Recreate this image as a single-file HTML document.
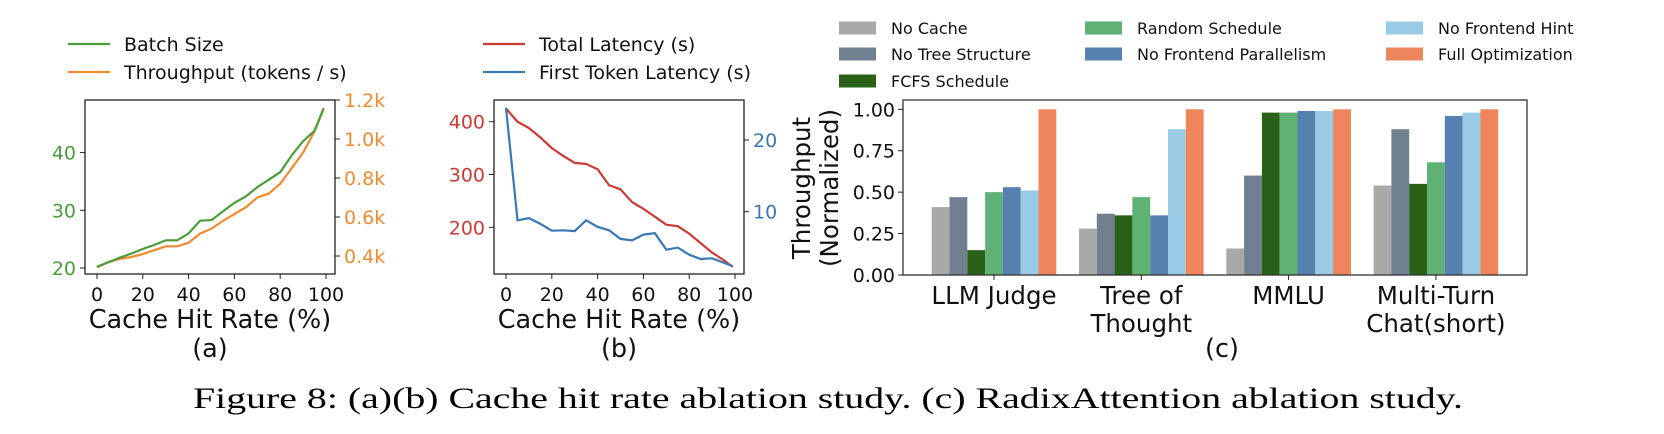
<!DOCTYPE html>
<html><head><meta charset="utf-8"><style>
html,body{margin:0;padding:0;background:#fff;}
svg{display:block;font-family:"DejaVu Sans","Liberation Sans",sans-serif;}
</style></head><body>
<svg id="fig" width="1664" height="434" viewBox="0 0 1664 434" xmlns="http://www.w3.org/2000/svg">
<g id="ga"></g>
<g id="gb"></g>
<g id="gc"></g>
<text x="828" y="408" text-anchor="middle" font-family="Liberation Serif, serif" font-size="30" textLength="1270" lengthAdjust="spacingAndGlyphs">Figure 8: (a)(b) Cache hit rate ablation study. (c) RadixAttention ablation study.</text>
</svg>
<script>
const hitRates=[0,5,10,15,20,25,30,35,40,45,50,55,60,65,70,75,80,85,90,95,99];
const batchSize=[20.2,21,21.8,22.5,23.3,24,24.8,24.8,26,28.2,28.3,29.8,31.3,32.4,34,35.3,36.6,39.5,42,43.8,47.7];
const throughputK=[0.342,0.37,0.385,0.395,0.41,0.43,0.45,0.45,0.468,0.515,0.54,0.58,0.615,0.65,0.70,0.72,0.77,0.85,0.93,1.04,1.157];
const totalLatency=[425,400,388,370,350,335,322,320,310,280,272,248,235,220,205,202,188,170,152,138,125];
const firstTokenLatency=[24.5,8.8,9.1,8.3,7.35,7.4,7.3,8.8,7.9,7.4,6.2,6.0,6.8,7.0,4.7,5.0,4.0,3.4,3.5,2.9,2.4];
const xTicks=[0,20,40,60,80,100];
const aLeftTicks=[20,30,40];
const aRightTicks=[0.4,0.6,0.8,1.0,1.2];
const bLeftTicks=[200,300,400];
const bRightTicks=[10,20];
const categories=[["LLM Judge"],["Tree of","Thought"],["MMLU"],["Multi-Turn","Chat(short)"]];
const seriesNames=["No Cache","No Tree Structure","FCFS Schedule","Random Schedule","No Frontend Parallelism","No Frontend Hint","Full Optimization"];
const noCache=[0.41,0.28,0.16,0.54];
const noTree=[0.47,0.37,0.60,0.88];
const fcfs=[0.15,0.36,0.98,0.55];
const randomSched=[0.50,0.47,0.98,0.68];
const noParallel=[0.53,0.36,0.99,0.96];
const noHint=[0.51,0.88,0.99,0.98];
const fullOpt=[1.0,1.0,1.0,1.0];
const cTicks=[0,0.25,0.5,0.75,1.0];

const NS="http://www.w3.org/2000/svg";
function mk(parent,tag,attrs,txt){const e=document.createElementNS(NS,tag);for(const k in attrs)e.setAttribute(k,attrs[k]);if(txt!==undefined)e.textContent=txt;parent.appendChild(e);return e;}
const GREEN="#4b9d3a",ORANGE="#f28a30",RED="#cc3a35",BLUE="#3a78b5";

function lineChart(g,cfg){
  const {x0,x1,y0,y1,xs,ly,ry}=cfg;
  const fx=v=>xs.a+(v-xs.v0)*xs.k;
  const fl=v=>ly.a+(v-ly.v0)*ly.k;
  const fr=v=>ry.a+(v-ry.v0)*ry.k;
  const p1=hitRates.map((h,i)=>fx(h).toFixed(1)+","+fl(cfg.s1[i]).toFixed(1)).join(" ");
  let e=mk(g,"polyline",{points:p1,fill:"none",stroke:cfg.c1,"stroke-width":2.2});
  
  
  const p2=hitRates.map((h,i)=>fx(h).toFixed(1)+","+fr(cfg.s2[i]).toFixed(1)).join(" ");
  e=mk(g,"polyline",{points:p2,fill:"none",stroke:cfg.c2,"stroke-width":2.2});
  
  
  if(cfg.order==="rev"){g.appendChild(g.children[g.children.length-2]);}
  e=mk(g,"rect",{x:x0,y:y0,width:x1-x0,height:y1-y0,fill:"none",stroke:"#222","stroke-width":1.3});
  
  
  xTicks.forEach(t=>{const x=fx(t);mk(g,"line",{x1:x,x2:x,y1:y1,y2:y1+5,stroke:"#222"});
    e=mk(g,"text",{x:x,y:y1+27,"text-anchor":"middle","font-size":19,fill:"#111"},t);
    
    });
  cfg.lt.forEach(t=>{const y=fl(t);mk(g,"line",{x1:x0-5,x2:x0,y1:y,y2:y,stroke:"#222"});
    e=mk(g,"text",{x:x0-9,y:y+7,"text-anchor":"end","font-size":19,fill:cfg.c1},cfg.lf(t));
    
    });
  cfg.rt.forEach(t=>{const y=fr(t);mk(g,"line",{x1:x1,x2:x1+5,y1:y,y2:y,stroke:"#222"});
    e=mk(g,"text",{x:x1+9,y:y+7,"text-anchor":"start","font-size":19,fill:cfg.c2},cfg.rf(t));
    
    });
  const cx=(x0+x1)/2+cfg.labOff;
  e=mk(g,"text",{x:cx,y:328,"text-anchor":"middle","font-size":25.5,fill:"#111"},"Cache Hit Rate (%)");
  
  
  e=mk(g,"text",{x:cx,y:357,"text-anchor":"middle","font-size":25.5,fill:"#111"},cfg.sub);
  
  
  [[cfg.c1,cfg.L1,44],[cfg.c2,cfg.L2,72]].forEach(([c,l,y])=>{
    e=mk(g,"line",{x1:cfg.lx,x2:cfg.lx+42,y1:y,y2:y,stroke:c,"stroke-width":2.2});
    
    
    e=mk(g,"text",{x:cfg.lx+56,y:y+7,"font-size":19,fill:"#111"},l);
    
    });
}
lineChart(document.getElementById("ga"),{x0:85,x1:335,y0:100,y1:274,
  xs:{a:97,v0:0,k:2.29},ly:{a:268,v0:20,k:-5.77},ry:{a:256,v0:0.4,k:-195},
  s1:batchSize,s2:throughputK,c1:GREEN,c2:ORANGE,n1:"batch-size",n2:"throughput",order:"rev",
  lt:aLeftTicks,rt:aRightTicks,lf:t=>t,rf:t=>t.toFixed(1)+"k",labOff:0,sub:"(a)",
  lx:68,L1:"Batch Size",L2:"Throughput (tokens / s)"});
lineChart(document.getElementById("gb"),{x0:494,x1:744,y0:100,y1:274,
  xs:{a:506,v0:0,k:2.29},ly:{a:121.7,v0:400,k:-0.528},ry:{a:140,v0:20,k:-7.17},
  s1:totalLatency,s2:firstTokenLatency,c1:RED,c2:BLUE,n1:"total-latency",n2:"first-token-latency",order:"",
  lt:bLeftTicks,rt:bRightTicks,lf:t=>t,rf:t=>t,labOff:0,sub:"(b)",
  lx:483,L1:"Total Latency (s)",L2:"First Token Latency (s)"});

(function(){
  const g=document.getElementById("gc");
  const x0=903,x1=1527,y0=100,y1=275;
  const colors=["#a9a9a9","#708090","#2a6118","#5fb174","#5580b0","#99cbe6","#ef855c"];
  const series=[noCache,noTree,fcfs,randomSched,noParallel,noHint,fullOpt];
  const fy=v=>y1-v*165.7;
  const gx=i=>994+i*147.3;
  const bw=17.8;
  let e;
  series.forEach((s,si)=>{s.forEach((v,ci)=>{
    const x=gx(ci)+(si-3.5)*bw;
    e=mk(g,"rect",{x:x,y:fy(v),width:bw,height:y1-fy(v),fill:colors[si]});
    
    });});
  e=mk(g,"rect",{x:x0,y:y0,width:x1-x0,height:y1-y0,fill:"none",stroke:"#333","stroke-width":1.3});
  
  
  cTicks.forEach(t=>{const y=fy(t);mk(g,"line",{x1:x0-5,x2:x0,y1:y,y2:y,stroke:"#222"});
    e=mk(g,"text",{x:x0-8,y:y+7,"text-anchor":"end","font-size":19,fill:"#111"},t.toFixed(2));
    
    });
  categories.forEach((c,i)=>{const x=gx(i);mk(g,"line",{x1:x,x2:x,y1:y1,y2:y1+5,stroke:"#222"});
    c.forEach((l,j)=>{e=mk(g,"text",{x:x,y:304+j*28,"text-anchor":"middle","font-size":24.5,fill:"#111"},l);
      
      });});
  e=mk(g,"text",{x:1222,y:357,"text-anchor":"middle","font-size":25.5,fill:"#111"},"(c)");
  
  
  e=mk(g,"text",{transform:"translate(810,188) rotate(-90)","text-anchor":"middle","font-size":24.5,fill:"#111"},"Throughput");
  
  
  e=mk(g,"text",{transform:"translate(838,188) rotate(-90)","text-anchor":"middle","font-size":24.5,fill:"#111"},"(Normalized)");
  
  
  const lxs=[839,1085,1386],lys=[28,54,81];
  const pos=[[0,0],[0,1],[0,2],[1,0],[1,1],[2,0],[2,1]];
  seriesNames.forEach((n,i)=>{const [c,r]=pos[i];
    e=mk(g,"rect",{x:lxs[c],y:lys[r]-6.5,width:37,height:13,fill:colors[i]});
    
    
    e=mk(g,"text",{x:lxs[c]+52,y:lys[r]+6,"font-size":16,fill:"#111"},n);
    
    });
})();
</script>
</body></html>
